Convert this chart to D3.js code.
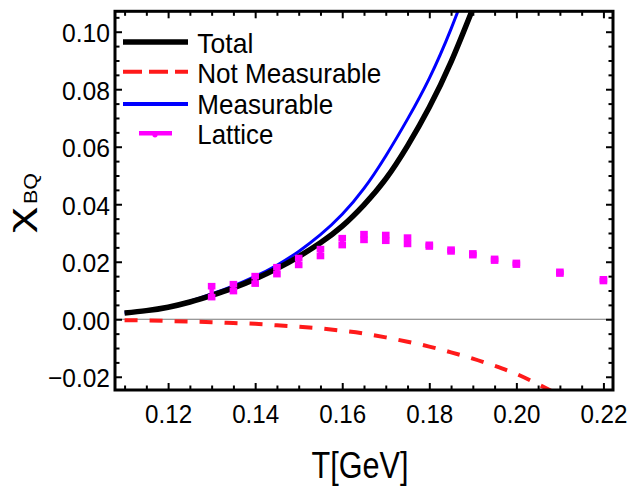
<!DOCTYPE html>
<html>
<head>
<meta charset="utf-8">
<script src="https://cdnjs.cloudflare.com/ajax/libs/d3/7.8.5/d3.min.js"></script>
<style>
    body { margin: 0; background: #fff; }
    svg { display: block; }
    text { font-family: "Liberation Sans", Arial, Helvetica, sans-serif; fill: #000; }
</style>
</head>
<body>
<div id="chart"></div>
<script>
// Curve data
const tCurve = [0.110, 0.115, 0.120, 0.125, 0.130, 0.135, 0.140, 0.145, 0.150, 0.155, 0.160, 0.165, 0.170, 0.175, 0.180, 0.185, 0.190];
const totalVals = [0.0022, 0.0030, 0.0042, 0.0060, 0.0083, 0.0109, 0.0140, 0.0176, 0.0218, 0.0266, 0.0324, 0.0398, 0.0488, 0.0603, 0.0737, 0.0895, 0.1080];
const measurableVals = [0.0023, 0.0031, 0.0044, 0.0063, 0.0088, 0.0116, 0.0149, 0.0188, 0.0236, 0.0294, 0.0365, 0.0455, 0.0568, 0.0696, 0.0838, 0.1010, 0.1210];

const tNotMeas = [0.110, 0.115, 0.120, 0.125, 0.130, 0.135, 0.140, 0.145, 0.150, 0.155, 0.160, 0.165, 0.170, 0.175, 0.180, 0.185, 0.190, 0.195, 0.200, 0.205, 0.210];
const notMeasVals = [-0.0003, -0.0004, -0.0006, -0.0008, -0.0010, -0.0013, -0.0016, -0.0021, -0.0026, -0.0032, -0.0040, -0.0050, -0.0063, -0.0078, -0.0095, -0.0115, -0.0137, -0.0162, -0.0190, -0.0226, -0.0264];

// Lattice points
const latticeT = [0.130, 0.135, 0.140, 0.145, 0.150, 0.155, 0.160, 0.165, 0.170, 0.175, 0.180, 0.185, 0.190, 0.195, 0.200, 0.210, 0.220];
const latticeVals = [0.0096, 0.0110, 0.0137, 0.0169, 0.0201, 0.0232, 0.0270, 0.0286, 0.0283, 0.0273, 0.0256, 0.0239, 0.0226, 0.0207, 0.0193, 0.0162, 0.0136];
const latticeErr = [0.0019, 0.0012, 0.0013, 0.0012, 0.0012, 0.0012, 0.0012, 0.0010, 0.0010, 0.0011, 0.0003, 0.0003, 0.0003, 0.0003, 0.0003, 0.0003, 0.0003];

// Ticks
const xMajor = [0.12, 0.14, 0.16, 0.18, 0.20, 0.22];
const xTickLabels = ["0.12", "0.14", "0.16", "0.18", "0.20", "0.22"];
const yMajor = [-0.02, 0.00, 0.02, 0.04, 0.06, 0.08, 0.10];
const yTickLabels = ["\u22120.02", "0.00", "0.02", "0.04", "0.06", "0.08", "0.10"];
const xMinor = [0.110, 0.115, 0.125, 0.130, 0.135, 0.145, 0.150, 0.155, 0.165, 0.170, 0.175, 0.185, 0.190, 0.195, 0.205, 0.210, 0.215];
const yMinor = [-0.015, -0.010, -0.005, 0.005, 0.010, 0.015, 0.025, 0.030, 0.035, 0.045, 0.050, 0.055, 0.065, 0.070, 0.075, 0.085, 0.090, 0.095, 0.105];

const legendLabels = ["Total", "Not Measurable", "Measurable", "Lattice"];

const width = 632, height = 488;
const plot = { left: 115, right: 613, top: 11.3, bottom: 390 };

const x = d3.scaleLinear().domain([0.1078, 0.2222]).range([plot.left, plot.right]);
const y = d3.scaleLinear().domain([-0.0246, 0.1071]).range([plot.bottom, plot.top]);

const svg = d3.select('#chart').append('svg')
    .attr('width', width)
    .attr('height', height)
    .style('background', '#fff');

svg.append('defs').append('clipPath').attr('id', 'clip')
    .append('rect')
    .attr('x', plot.left).attr('y', plot.top)
    .attr('width', plot.right - plot.left)
    .attr('height', plot.bottom - plot.top);

// zero line
svg.append('line')
    .attr('x1', plot.left).attr('x2', plot.right)
    .attr('y1', y(0)).attr('y2', y(0))
    .attr('stroke', '#777').attr('stroke-width', 1.2);

const line = d3.line()
    .x(d => x(d[0]))
    .y(d => y(d[1]))
    .curve(d3.curveNatural);

const curves = svg.append('g').attr('clip-path', 'url(#clip)');

curves.append('path')
    .attr('d', line(tNotMeas.map((t, i) => [t, notMeasVals[i]])))
    .attr('fill', 'none').attr('stroke', '#ff1a1a')
    .attr('stroke-width', 4).attr('stroke-dasharray', '13,12');

curves.append('path')
    .attr('d', line(tCurve.map((t, i) => [t, measurableVals[i]])))
    .attr('fill', 'none').attr('stroke', '#0000ff')
    .attr('stroke-width', 3);

curves.append('path')
    .attr('d', line(tCurve.map((t, i) => [t, totalVals[i]])))
    .attr('fill', 'none').attr('stroke', '#000')
    .attr('stroke-width', 5.5);

// lattice points with error bars
const lat = curves.append('g').attr('fill', '#ff00ff');
latticeT.forEach((t, i) => {
    const cx = x(t);
    const yHi = y(latticeVals[i] + latticeErr[i]);
    const yLo = y(latticeVals[i] - latticeErr[i]);
    lat.append('rect').attr('x', cx - 2.2).attr('y', yHi).attr('width', 4.4).attr('height', yLo - yHi);
    lat.append('rect').attr('x', cx - 3.8).attr('y', yHi - 3.3).attr('width', 7.6).attr('height', 6.6);
    lat.append('rect').attr('x', cx - 3.8).attr('y', yLo - 3.3).attr('width', 7.6).attr('height', 6.6);
});

// axes
function styleAxis(g) {
    g.select('.domain').remove();
    g.selectAll('.tick line').attr('stroke', '#000').attr('stroke-width', 2);
}

const gBottom = svg.append('g')
    .attr('transform', `translate(0,${plot.bottom})`)
    .call(d3.axisBottom(x).tickValues(xMajor).tickSizeInner(-7).tickSizeOuter(0)
        .tickPadding(15).tickFormat((d, i) => xTickLabels[i]));
styleAxis(gBottom);
gBottom.selectAll('text')
    .attr('font-size', 25.5)
    .attr('textLength', 47).attr('lengthAdjust', 'spacingAndGlyphs')
    .attr('fill', '#000');

const gLeft = svg.append('g')
    .attr('transform', `translate(${plot.left},0)`)
    .call(d3.axisLeft(y).tickValues(yMajor).tickSizeInner(-7).tickSizeOuter(0)
        .tickPadding(5).tickFormat((d, i) => yTickLabels[i]));
styleAxis(gLeft);
gLeft.selectAll('text')
    .attr('font-size', 26)
    .attr('dy', '0.38em')
    .attr('textLength', (d, i) => yTickLabels[i].length > 4 ? 62 : 48)
    .attr('lengthAdjust', 'spacingAndGlyphs')
    .attr('fill', '#000');

const gTop = svg.append('g')
    .attr('transform', `translate(0,${plot.top})`)
    .call(d3.axisTop(x).tickValues(xMajor).tickSizeInner(-7).tickSizeOuter(0).tickFormat(''));
styleAxis(gTop);

const gRight = svg.append('g')
    .attr('transform', `translate(${plot.right},0)`)
    .call(d3.axisRight(y).tickValues(yMajor).tickSizeInner(-7).tickSizeOuter(0).tickFormat(''));
styleAxis(gRight);

// minor ticks
[
    [d3.axisBottom(x).tickValues(xMinor), `translate(0,${plot.bottom})`],
    [d3.axisTop(x).tickValues(xMinor), `translate(0,${plot.top})`],
    [d3.axisLeft(y).tickValues(yMinor), `translate(${plot.left},0)`],
    [d3.axisRight(y).tickValues(yMinor), `translate(${plot.right},0)`]
].forEach(([ax, tr]) => {
    const g = svg.append('g').attr('transform', tr)
        .call(ax.tickSizeInner(-4.5).tickSizeOuter(0).tickFormat(''));
    styleAxis(g);
});

// frame
svg.append('rect')
    .attr('x', plot.left).attr('y', plot.top)
    .attr('width', plot.right - plot.left)
    .attr('height', plot.bottom - plot.top)
    .attr('fill', 'none').attr('stroke', '#000').attr('stroke-width', 3);

// legend
const legend = svg.append('g');
const legendY = [42, 71.7, 104, 133.3];
const legendBase = [53, 82.5, 113.5, 143.5];
const legendLen = [56, 184, 136, 76];

legend.append('line').attr('x1', 123).attr('x2', 188).attr('y1', legendY[0]).attr('y2', legendY[0])
    .attr('stroke', '#000').attr('stroke-width', 5.5);
legend.append('line').attr('x1', 123).attr('x2', 188).attr('y1', legendY[1]).attr('y2', legendY[1])
    .attr('stroke', '#ff1a1a').attr('stroke-width', 4).attr('stroke-dasharray', '19,7');
legend.append('line').attr('x1', 123).attr('x2', 188).attr('y1', legendY[2]).attr('y2', legendY[2])
    .attr('stroke', '#0000ff').attr('stroke-width', 4);
legend.append('line').attr('x1', 139).attr('x2', 172).attr('y1', legendY[3]).attr('y2', legendY[3])
    .attr('stroke', '#ff00ff').attr('stroke-width', 4.5);
legend.append('circle').attr('cx', 155).attr('cy', legendY[3] + 1.5).attr('r', 2.6).attr('fill', '#ff00ff');

legendLabels.forEach((lbl, i) => {
    legend.append('text')
        .attr('x', 197.3).attr('y', legendBase[i])
        .attr('font-size', 28.5)
        .attr('textLength', legendLen[i]).attr('lengthAdjust', 'spacingAndGlyphs')
        .text(lbl);
});

// axis titles
svg.append('text')
    .attr('x', 360).attr('y', 478)
    .attr('text-anchor', 'middle')
    .attr('font-size', 37)
    .attr('textLength', 97).attr('lengthAdjust', 'spacingAndGlyphs')
    .text('T[GeV]');

svg.append('text')
    .attr('transform', 'translate(30,233) rotate(-90)')
    .attr('font-size', 32)
    .attr('textLength', 26).attr('lengthAdjust', 'spacingAndGlyphs')
    .text('\u03c7');
svg.append('text')
    .attr('transform', 'translate(37,204) rotate(-90)')
    .attr('font-size', 18)
    .attr('textLength', 31).attr('lengthAdjust', 'spacingAndGlyphs')
    .text('BQ');
</script>
</body>
</html>
